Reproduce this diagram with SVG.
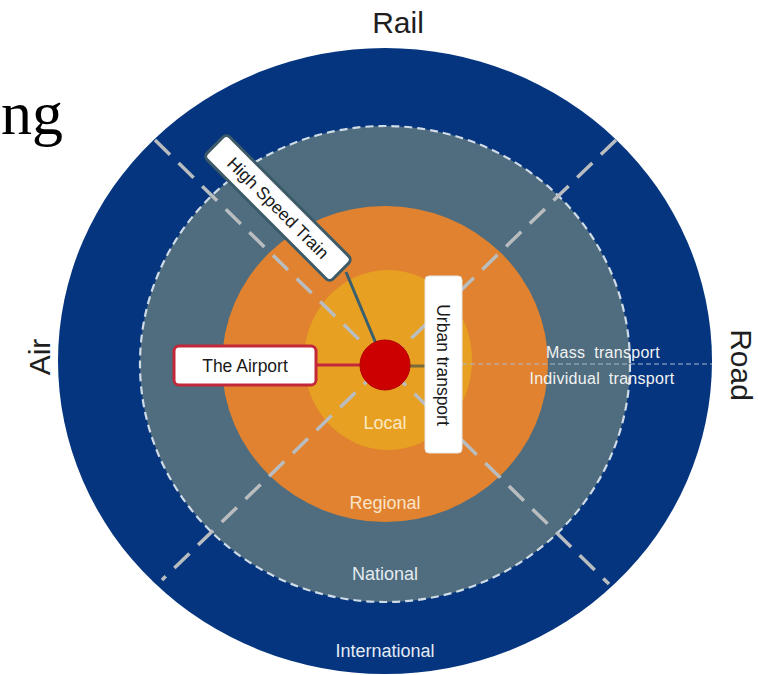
<svg xmlns="http://www.w3.org/2000/svg" width="758" height="675" viewBox="0 0 758 675">
  <style>
    .lbl { font-family: "Liberation Sans", Arial, sans-serif; }
    .ring { font-family: "Liberation Sans", Arial, sans-serif; font-size: 18px; text-anchor: middle; }
    .side { font-family: "Liberation Sans", Arial, sans-serif; font-size: 30px; fill: #1e1e1e; text-anchor: middle; }
    .box { fill: #ffffff; }
    .diag { stroke: #b9bdbf; stroke-width: 3.5; stroke-dasharray: 21 12; fill: none; }
    .btxt { font-family: "Liberation Sans", Arial, sans-serif; font-size: 17.5px; fill: #1a1a1a; text-anchor: middle; }
  </style>
  <rect width="758" height="675" fill="#ffffff"/>
  <text x="63" y="134" font-family="Liberation Serif, Times New Roman, serif" font-size="62" fill="#000" text-anchor="end">ng</text>

  <g id="rings">
    <ellipse id="international" cx="385" cy="361" rx="327" ry="313" fill="#05357f"/>
    <ellipse id="national" cx="385" cy="364" rx="245" ry="238" fill="#4f6d7f"/>
    <ellipse cx="385" cy="364" rx="245" ry="238" fill="none" stroke="#cfdbe6" stroke-width="2.2" stroke-dasharray="8 5"/>
    <ellipse id="regional" cx="385" cy="364" rx="163" ry="158" fill="#e0822f"/>
    <ellipse id="local" cx="388" cy="360" rx="84" ry="90" fill="#e8a022"/>
  </g>

  <g id="dividers">
    <line class="diag" x1="155" y1="140" x2="609" y2="584"/>
    <line class="diag" x1="616" y1="140" x2="162" y2="580"/>
    <line x1="462" y1="364" x2="712" y2="364" stroke="#a9bacd" stroke-width="1.2" stroke-dasharray="5 3"/>
  </g>

  <g id="ring-labels">
    <text class="ring" x="385" y="429" fill="#fbe8c2">Local</text>
    <text class="ring" x="385" y="509" fill="#fbe3c8">Regional</text>
    <text class="ring" x="385" y="580" fill="#e4ebf0">National</text>
    <text class="ring" x="385" y="657" fill="#e4ebf3">International</text>
    <text class="lbl" x="603" y="358" font-size="16" fill="#f2f2f2" text-anchor="middle" word-spacing="4" letter-spacing="0.3">Mass transport</text>
    <text class="lbl" x="602" y="384" font-size="16" fill="#f2f2f2" text-anchor="middle" word-spacing="4" letter-spacing="0.3">Individual transport</text>
  </g>

  <g id="modes">
    <text class="side" x="398" y="33">Rail</text>
    <text class="side" transform="translate(50,357) rotate(-90)">Air</text>
    <text class="side" transform="translate(731,365) rotate(90)">Road</text>
  </g>

  <g id="connectors">
    <line x1="346" y1="272" x2="385" y2="365" stroke="#3a5f6e" stroke-width="3"/>
    <line x1="316" y1="365" x2="385" y2="365" stroke="#c3283a" stroke-width="3"/>
    <line x1="385" y1="366" x2="425" y2="366" stroke="#7a6a3a" stroke-width="3"/>
  </g>

  <g id="hub">
    <circle cx="385" cy="365" r="25" fill="#cc0000" stroke="#b30000" stroke-width="1"/>
  </g>

  <g id="high-speed-train" transform="translate(278,208) rotate(45)">
    <rect class="box" x="-89" y="-16" width="178" height="32" rx="5" stroke="#3d5a68" stroke-width="3"/>
    <text class="btxt" x="0" y="6">High Speed Train</text>
  </g>

  <g id="the-airport">
    <rect class="box" x="174" y="346" width="142" height="39" rx="5" stroke="#c3283a" stroke-width="3"/>
    <text class="btxt" x="245" y="372">The Airport</text>
  </g>

  <g id="urban-transport">
    <rect class="box" x="425" y="276" width="37" height="177" rx="4" stroke="#e6e6e6" stroke-width="1"/>
    <text class="btxt" transform="translate(437,365) rotate(90)">Urban transport</text>
  </g>
</svg>
